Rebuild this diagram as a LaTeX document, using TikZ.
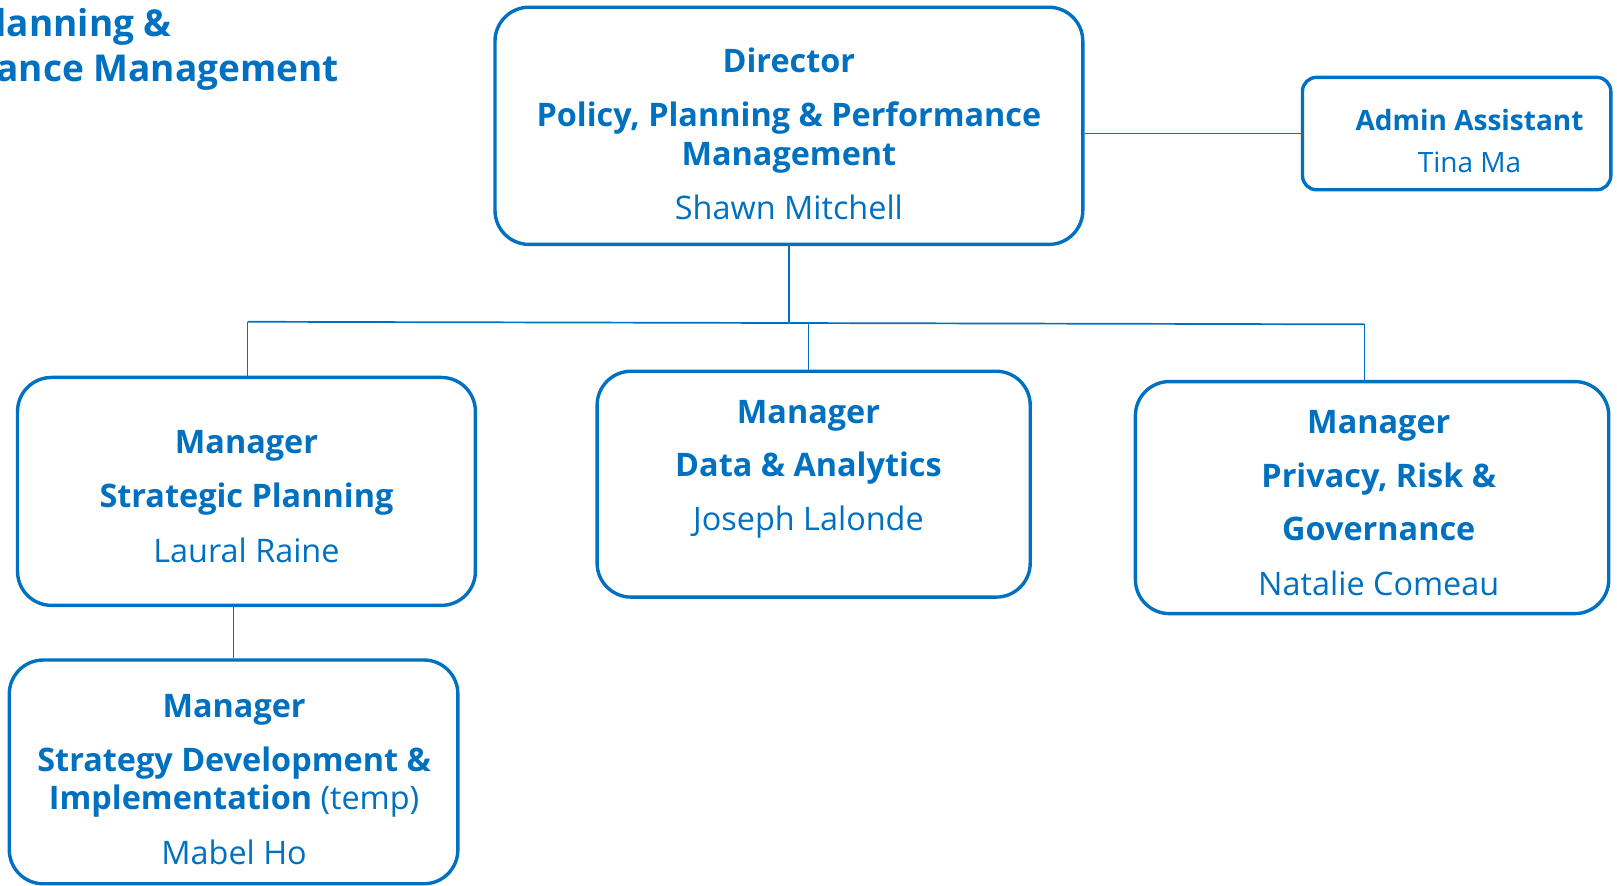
\documentclass[tikz,border=0pt]{standalone}
\usepackage{fontspec}
\setmainfont{Open Sans}
\usetikzlibrary{fit}
\definecolor{orgblue}{RGB}{0,112,192}
\begin{document}
\begin{tikzpicture}[x=0.515625pt,y=-0.515625pt,
  box/.style={draw=orgblue, line width=1.7pt, rounded corners=17pt, inner sep=0pt},
  conn/.style={draw=orgblue, line width=0.85pt},
  bl/.style={text=orgblue, font=\fontsize{16.2}{20}\selectfont\bfseries, anchor=base, inner sep=0pt},
  rl/.style={text=orgblue, font=\fontsize{16.2}{20}\selectfont, anchor=base, inner sep=0pt},
  sbl/.style={text=orgblue, font=\fontsize{14}{17}\selectfont\bfseries, anchor=base, inner sep=0pt},
  srl/.style={text=orgblue, font=\fontsize{14}{17}\selectfont, anchor=base, inner sep=0pt},
  ttl/.style={text=orgblue, font=\fontsize{18.5}{22}\selectfont\bfseries, anchor=base east, inner sep=0pt},
]
\useasboundingbox (0,0) rectangle (1568,859);
\clip (0,0) rectangle (1568,859);

% title (cut at left edge)
\node[ttl] (t1) at (167,35) {Policy, Planning \&};
\node[ttl] (t2) at (329,79) {Performance Management};

% boxes
\node[box, fit={(480,7) (1050,237)}] (dir) {};
\node[box, rounded corners=7pt, fit={(1263,75) (1562,184)}] (adm) {};
\node[box, fit={(17,366) (461,587)}] (sp) {};
\node[box, fit={(579,360) (999,579)}] (da) {};
\node[box, fit={(1101,370) (1560,595)}] (prg) {};
\node[box, fit={(9,640) (444,857)}] (sdi) {};

% connectors
\coordinate (busL) at (240,312);
\coordinate (busR) at (1323,314.5);
\coordinate (busM) at (784,313.3);
\draw[conn] (busL) -- (busR);
\draw[conn] (dir.south) -- (dir.south |- busL);
\draw[conn] (busL) -- (busL |- sp.north);
\draw[conn] (busM) -- (busM |- da.north);
\draw[conn] (busR) -- (busR |- prg.north);
\draw[conn] (sdi.north) -- (sdi.north |- sp.south);
\draw[conn] (adm.west) -- (adm.west -| dir.east);

% director text
\node[bl] (d1) at (765,70.5) {Director};
\node[bl] (d2) at (765,122.5) {Policy, Planning \& Performance};
\node[bl] (d3) at (765,160.5) {Management};
\node[rl] (d4) at (765,212.5) {Shawn Mitchell};

% admin text
\node[sbl] (a1) at (1425,126.5) {Admin Assistant};
\node[srl] (a2) at (1425,167) {Tina Ma};

% strategic planning
\node[bl] (s1) at (239,439.5) {Manager};
\node[bl] (s2) at (239,492.5) {Strategic Planning};
\node[rl] (s3) at (239,545.5) {Laural Raine};

% data & analytics
\node[bl] (e1) at (784,410.5) {Manager};
\node[bl] (e2) at (784,462.5) {Data \& Analytics};
\node[rl] (e3) at (784,514.5) {Joseph Lalonde};

% privacy
\node[bl] (p1) at (1337,420.5) {Manager};
\node[bl] (p2) at (1337,472.5) {Privacy, Risk \&};
\node[bl] (p3) at (1337,524.5) {Governance};
\node[rl] (p4) at (1337,577.5) {Natalie Comeau};

% strategy development
\node[bl] (g1) at (227,695.5) {Manager};
\node[bl] (g2) at (227,748) {Strategy Development \&};
\node[rl] (g3) at (227,784.5) {\textbf{Implementation} (temp)};
\node[rl] (g4) at (227,838) {Mabel Ho};
\end{tikzpicture}
\end{document}
